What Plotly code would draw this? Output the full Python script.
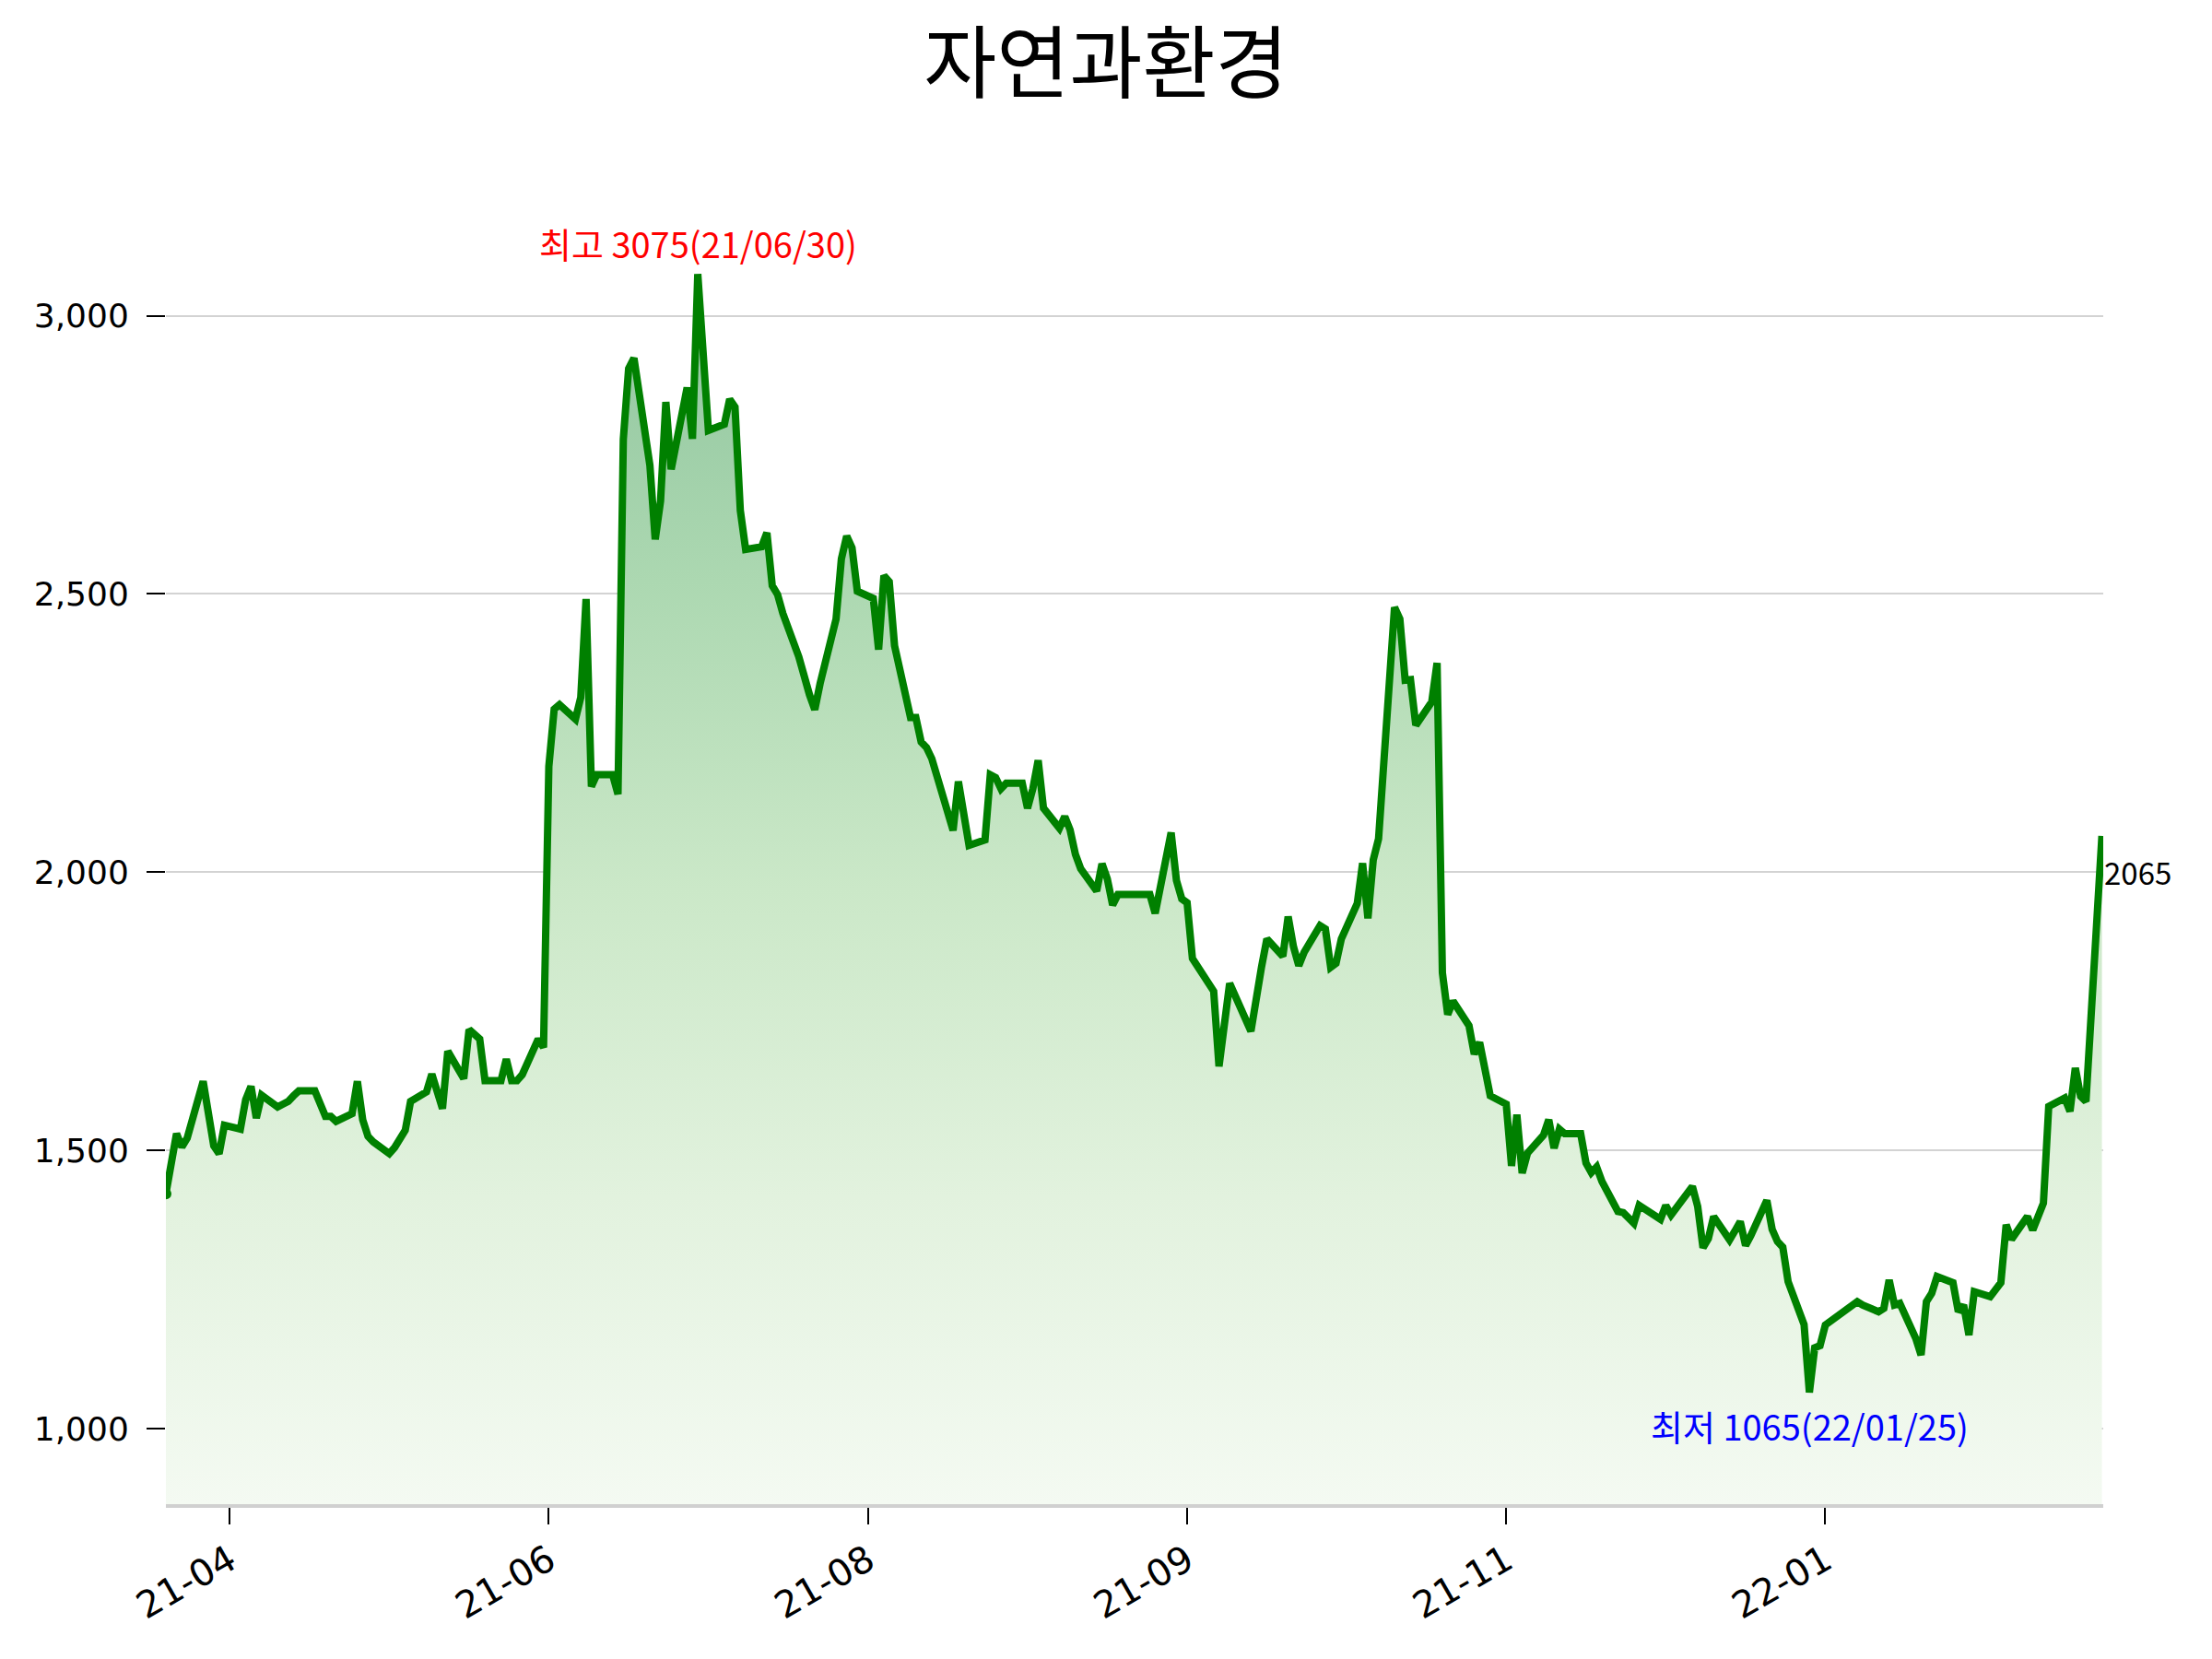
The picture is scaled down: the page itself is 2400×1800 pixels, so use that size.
import pandas as pd
import plotly.graph_objects as go

# ---------------- data ----------------
TITLE = "자연과환경"
START_DATE = "2021-03-22"
END_DATE = "2022-03-21"
# KRX market holidays inside the period (weekdays without trading)
HOLIDAYS = ["2021-05-05", "2021-05-19", "2021-08-16", "2021-09-20", "2021-09-21",
            "2021-09-22", "2021-10-04", "2021-10-11", "2021-12-31", "2022-01-31",
            "2022-02-01", "2022-02-02", "2022-03-01", "2022-03-09"]

# daily close, one row per trading week
price = [
    1422, 1480, 1530, 1506, 1522,
    1624, 1555, 1508, 1494, 1545,
    1538, 1591, 1615, 1558, 1599,
    1578, 1583, 1588, 1598, 1607,
    1607, 1585, 1561, 1561, 1552,
    1566, 1624, 1555, 1525, 1515,
    1494, 1505, 1536, 1588,
    1605, 1637, 1605, 1575, 1678,
    1629, 1717, 1700, 1625,
    1625, 1664, 1625, 1625, 1636,
    1700, 1685, 2190, 2293, 2301,
    2275, 2314, 2491, 2154, 2175,
    2175, 2140, 2778, 2905, 2924,
    2731, 2598, 2667, 2845, 2724,
    2871, 2779, 3075, 2935, 2794,
    2805, 2850, 2836, 2650, 2580,
    2585, 2610, 2515, 2499, 2465,
    2387, 2346, 2319, 2292, 2339,
    2455, 2563, 2604, 2583, 2505,
    2492, 2400, 2533, 2522, 2407,
    2278, 2278, 2234, 2224, 2204,
    2075, 2163, 2110, 2048,
    2058, 2175, 2170, 2150, 2160,
    2160, 2115, 2150, 2201, 2115,
    2079, 2100, 2076, 2032, 2006,
    1966, 2015, 1988, 1941, 1960,
    1960, 1926,
    2071, 1985, 1952, 1945, 1845,
    1786, 1651, 1722, 1800,
    1714, 1783, 1830, 1880,
    1849, 1920, 1866, 1832, 1856,
    1904, 1898, 1829, 1836, 1880,
    1944, 2016, 1917, 2022, 2060,
    2476, 2455, 2345, 2346, 2264,
    2306, 2376, 1819, 1744, 1768,
    1724, 1673, 1694, 1645, 1598,
    1583, 1472, 1564, 1459, 1495,
    1527, 1555, 1504, 1538, 1530,
    1530, 1477, 1460, 1470, 1444,
    1390, 1388, 1378, 1369, 1401,
    1382, 1376, 1401, 1384,
    1435, 1399, 1325, 1341, 1381,
    1339, 1355, 1372, 1329, 1347,
    1410, 1358, 1336, 1326, 1264,
    1187, 1065, 1145, 1149, 1186,
    1228, 1222,
    1210, 1216, 1267, 1222, 1225,
    1162, 1132, 1228, 1243, 1273,
    1262, 1210, 1222, 1168, 1246,
    1237, 1262, 1366, 1340,
    1381, 1357, 1405, 1579,
    1594, 1570, 1648, 1597, 1588,
    2065,
]

x_tick_dates = ["2021-04-03", "2021-06-02", "2021-08-01", "2021-09-30",
                "2021-11-29", "2022-01-28"]
y_tick_values = [1000, 1500, 2000, 2500, 3000]

# ---------------- build ----------------
days = pd.bdate_range(START_DATE, END_DATE)
days = days[~days.isin(pd.to_datetime(HOLIDAYS))]
n = min(len(days), len(price))
dates = list(days[:n])
vals = price[:n]

hi_i = max(range(n), key=lambda i: vals[i])
lo_i = min(range(n), key=lambda i: vals[i])
hi_d, lo_d = dates[hi_i], dates[lo_i]

lo_val = vals[lo_i]
hi_val = vals[hi_i]
span = hi_val - lo_val
y_range = [lo_val - 0.1 * span, hi_val + 0.1 * span]

KFONT = "Noto Sans CJK KR, Noto Sans, sans-serif"
TFONT = "DejaVu Sans, sans-serif"
GREEN = "#008000"

fig = go.Figure()
fig.add_trace(go.Scatter(
    x=dates, y=vals, mode="lines",
    line=dict(color=GREEN, width=8),
    fill="tozeroy",
    fillgradient=dict(
        type="vertical",
        start=y_range[0], stop=hi_val,
        colorscale=[[0.0, "rgb(244,250,242)"],
                    [0.25, "rgb(226,242,222)"],
                    [0.5, "rgb(203,232,200)"],
                    [0.75, "rgb(172,216,177)"],
                    [1.0, "rgb(143,196,158)"]],
    ),
    hoverinfo="x+y", showlegend=False,
))
# rounded start of the line
fig.add_trace(go.Scatter(
    x=dates[:1], y=vals[:1], mode="markers",
    marker=dict(color=GREEN, size=12), showlegend=False, hoverinfo="skip",
))

fig.add_annotation(
    x=hi_d, y=hi_val, text=f"최고 {hi_val}({hi_d:%y/%m/%d})",
    showarrow=False, yanchor="bottom", yshift=4,
    font=dict(family=KFONT, size=38, color="red"),
)
fig.add_annotation(
    x=lo_d, y=lo_val, text=f"최저 {lo_val}({lo_d:%y/%m/%d})",
    showarrow=False, yanchor="top", yshift=-6,
    font=dict(family=KFONT, size=38, color="blue"),
)
fig.add_annotation(
    x=dates[-1], y=vals[-1], text=f"{vals[-1]}",
    showarrow=False, xanchor="left", yanchor="middle", yshift=-39, xshift=0,
    font=dict(family=KFONT, size=33, color="black"),
)

fig.update_layout(
    width=2400, height=1800,
    margin=dict(l=180, r=118, t=176, b=168),
    paper_bgcolor="white", plot_bgcolor="white",
    title=dict(text=TITLE, x=0.5, xanchor="center", y=1 - 70 / 1800, yanchor="middle",
               font=dict(family=KFONT, size=86, color="black")),
    font=dict(family=TFONT, size=36, color="black"),
)
fig.update_xaxes(
    type="date",
    range=[pd.Timestamp(START_DATE), pd.Timestamp(END_DATE) + pd.Timedelta(hours=6)],
    tickvals=x_tick_dates, tickformat="%y-%m", tickangle=-30,
    ticks="outside", ticklen=18, tickwidth=1.5, tickcolor="black",
    showline=True, linecolor="#d0d0d0", linewidth=4,
    showgrid=False, zeroline=False,
    tickfont=dict(family=TFONT, size=40, color="black"),
)
fig.update_yaxes(
    range=y_range, tickvals=y_tick_values, tickformat=",d",
    ticks="outside", ticklen=20, tickwidth=1.5, tickcolor="black",
    ticklabelstandoff=12,
    showline=False, showgrid=True, gridcolor="#d3d3d3", gridwidth=2,
    zeroline=False,
    tickfont=dict(family=TFONT, size=36, color="black"),
)

fig.write_html("out.html")
